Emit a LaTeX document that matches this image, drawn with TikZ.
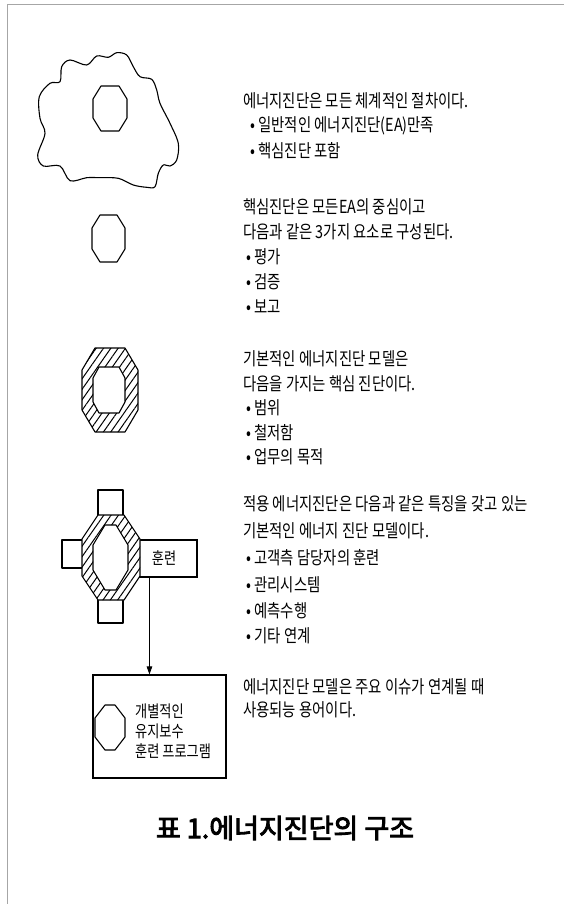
\documentclass[tikz,border=0pt]{standalone}
\usepackage{fontspec}
\usetikzlibrary{patterns.meta,arrows.meta,calc}
\newfontfamily\kr{Noto Sans CJK KR}[FakeStretch=0.8]
\newfontfamily\krtitle{Noto Sans CJK KR}[FakeBold=3.5]
\newcommand\octa[6]{({#1-#3+#5},{#2-#4}) -- ({#1+#3-#5},{#2-#4}) -- ({#1+#3},{#2-#4+#6}) -- ({#1+#3},{#2+#4-#6}) -- ({#1+#3-#5},{#2+#4}) -- ({#1-#3+#5},{#2+#4}) -- ({#1-#3},{#2+#4-#6}) -- ({#1-#3},{#2-#4+#6}) -- cycle}
\tikzset{
  shp/.style={draw=black, line width=1.1pt, line join=round},
  hatch/.style={pattern={Lines[angle=55,distance=6pt,line width=1pt]}, pattern color=black},
  txt/.style={anchor=west, inner sep=0pt, font=\kr\fontsize{18}{20}\selectfont},
  boxtxt/.style={inner sep=0pt, font=\kr\fontsize{16.5}{20}\selectfont},
  boxnode/.style={draw=black, line width=1.1pt, rectangle, inner sep=0pt}
}
\begin{document}
\begin{tikzpicture}[x=1pt,y=-1pt]
\useasboundingbox (0,0) rectangle (564,904);
\fill[white] (0,0) rectangle (564,904);
% frame
\draw[gray!70, line width=1pt] (7,904) -- (7,5) -- (564,5);

% 1: cloud with octagon
\draw[shp] plot[smooth cycle, tension=0.55] coordinates {(61.7,66.7) (70,60) (86.7,65) (96.7,56) (108.3,57.3) (116.7,52.7) (126.7,55) (133.3,66.7) (140,76.7) (151.7,79.3) (156.7,90) (160,103.3) (170,123.3) (178.3,143.3) (176.7,160) (170,166) (163.3,165) (158.3,173.3) (155,186.7) (146.7,187.3) (133.3,185) (118.3,178.3) (100,177.7) (86.7,177.7) (70,180.7) (60,166) (43.3,166) (37.7,155) (45,133.3) (40,118.3) (39.3,96.7) (50,83.3) (60,81.7)};
\draw[shp] \octa{110}{108.5}{17}{22.5}{8}{13};

% 2: plain octagon
\draw[shp] \octa{108.5}{238.5}{16.5}{23.5}{8}{13};

% 3: hatched octagon
\draw[shp, fill=white] \octa{110}{390}{28}{42}{13}{22};
\path[hatch, even odd rule] \octa{110}{390}{28}{42}{13}{22} \octa{109}{390}{16}{23}{6}{11};
\draw[shp] \octa{109}{390}{16}{23}{6}{11};

% 4: cross figure
\draw[shp] (98,490) rectangle (123,516);
\draw[shp] (62,540) rectangle (84,568);
\draw[shp] (98,598) rectangle (123,623);
\node[boxnode, minimum width=60pt, minimum height=37pt] (hr) at (167,558.5) {};
\draw[shp, fill=white] \octa{111}{557.5}{29}{42.5}{16}{24};
\path[hatch, even odd rule] \octa{111}{557.5}{29}{42.5}{16}{24} \octa{110.5}{557.5}{17.5}{32.5}{12}{20};
\draw[shp] \octa{110.5}{557.5}{17.5}{32.5}{12}{20};
\node[boxtxt] (hrt) at (164,558) {훈련};

% 5: box
\node[boxnode, minimum width=133pt, minimum height=103pt] (bx) at (159.5,726.5) {};
\draw[shp] \octa{110}{727.5}{15}{22.5}{10}{13};
\node[boxtxt, anchor=west, align=left] (bt1) at (135,711) {개별적인};
\node[boxtxt, anchor=west, align=left] (bt2) at (135,731) {유지보수};
\node[boxtxt, anchor=west, align=left] (bt3) at (135,751) {훈련 프로그램};

\coordinate (as) at ($(hr.south west)+(13,0)$);
\draw[line width=1pt, -{Triangle[length=8pt,width=5.5pt]}] (as) -- (as |- bx.north);

% right texts
\node[txt] (a1) at (243,101) {에너지진단은 모든 체계적인 절차이다.};
\node[txt] (a2) at (250,126) {• 일반적인 에너지진단(EA)만족};
\node[txt] (a3) at (250,151) {• 핵심진단 포함};

\node[txt] (b1) at (243,207) {핵심진단은 모든EA의 중심이고};
\node[txt] (b2) at (243,232) {다음과 같은 3가지 요소로 구성된다.};
\node[txt] (b3) at (246,257) {• 평가};
\node[txt] (b4) at (246,282) {• 검증};
\node[txt] (b5) at (246,307) {• 보고};

\node[txt] (c1) at (243,359) {기본적인 에너지진단 모델은};
\node[txt] (c2) at (243,384) {다음을 가지는 핵심 진단이다.};
\node[txt] (c3) at (246,408) {• 범위};
\node[txt] (c4) at (246,433) {• 철저함};
\node[txt] (c5) at (246,457) {• 업무의 목적};

\node[txt] (d1) at (243,504) {적용 에너지진단은 다음과 같은 특징을 갖고 있는};
\node[txt] (d2) at (243,531) {기본적인 에너지 진단 모델이다.};
\node[txt] (d3) at (246,558) {• 고객측 담당자의 훈련};
\node[txt] (d4) at (246,585) {• 관리시스템};
\node[txt] (d5) at (246,611) {• 예측수행};
\node[txt] (d6) at (246,636) {• 기타 연계};

\node[txt] (e1) at (243,687) {에너지진단 모델은 주요 이슈가 연계될 때};
\node[txt] (e2) at (243,710) {사용되능 용어이다.};

% title
\node[inner sep=0pt, font=\krtitle\fontsize{27}{30}\selectfont] (title) at (285,828) {표 1.에너지진단의 구조};
\end{tikzpicture}
\end{document}
